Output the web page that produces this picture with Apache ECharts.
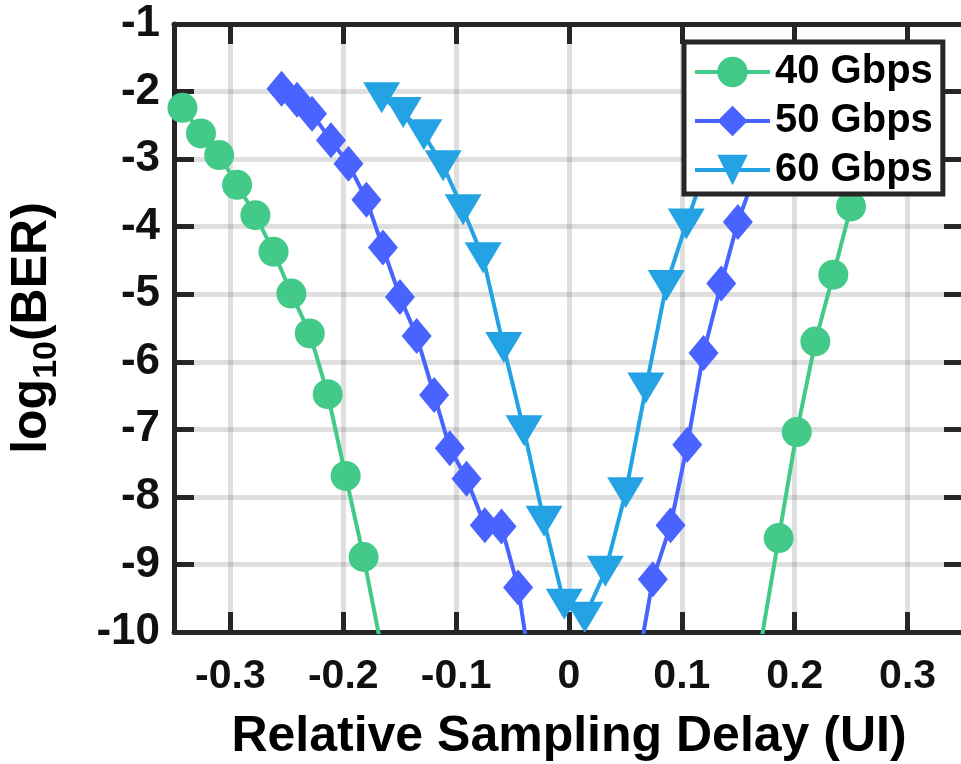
<!DOCTYPE html>
<html>
<head>
<meta charset="utf-8">
<script src="https://cdn.jsdelivr.net/npm/echarts@6/dist/echarts.min.js"></script>
<style>
html,body{margin:0;padding:0;background:#fff;}
#chart{width:961px;height:764px;}
</style>
</head>
<body>
<div id="chart"></div>
<script>
// ---- data ----
const seriesNames = ['40 Gbps', '50 Gbps', '60 Gbps'];

const x40 = [-0.3425, -0.3261, -0.3100, -0.2941, -0.2779, -0.2618, -0.2460, -0.2297, -0.2138, -0.1979, -0.1820, -0.1661,
             0.1698, 0.1858, 0.2018, 0.2183, 0.2342, 0.2499];
const y40 = [-2.24, -2.62, -2.94, -3.38, -3.83, -4.37, -4.99, -5.58, -6.48, -7.69, -8.89, -10.24,
             -10.18, -8.61, -7.04, -5.70, -4.71, -3.70];

const x50 = [-0.2547, -0.2410, -0.2277, -0.2109, -0.1954, -0.1795, -0.1649, -0.1498, -0.1350, -0.1195, -0.1056, -0.0908,
             -0.0746, -0.0598, -0.0451, -0.0304,
             0.0596, 0.0743, 0.0900, 0.1048, 0.1192, 0.1349, 0.1496, 0.1643];
const y50 = [-1.96, -2.12, -2.33, -2.72, -3.07, -3.60, -4.31, -5.04, -5.62, -6.49, -7.28, -7.73,
             -8.42, -8.44, -9.34, -10.97,
             -10.62, -9.22, -8.42, -7.23, -5.87, -4.84, -3.93, -3.25];

const x60 = [-0.1660, -0.1469, -0.1286, -0.1115, -0.0938, -0.0761, -0.0578, -0.0398, -0.0221, -0.0042,
             0.0139, 0.0322, 0.0502, 0.0681, 0.0862, 0.1039, 0.1219];
const y60 = [-2.09, -2.31, -2.64, -3.10, -3.75, -4.46, -5.79, -7.02, -8.36, -9.59,
             -9.78, -9.10, -7.94, -6.39, -4.87, -3.96, -3.09];

const xRange = [-0.35, 0.35];
const yRange = [-10, -1];
const xTitle = 'Relative Sampling Delay (UI)';

// ---- styling ----
const FONT = 'Liberation Sans';
const AX = '#262626';
const GRID = 'rgba(38,38,38,0.15)';
const colors = ['#43CA89', '#4863FF', '#23A3E3'];

function pairs(xs, ys) { return xs.map((x, i) => [x, ys[i]]); }
function tick() { return {show: true, inside: true, length: 20, lineStyle: {color: AX, width: 5}}; }
function aline() { return {show: true, onZero: false, lineStyle: {color: AX, width: 5}}; }

const chart = echarts.init(document.getElementById('chart'));

chart.setOption({
  animation: false,
  grid: {left: 174, top: 24, width: 790, height: 608, outerBoundsMode: 'none'},
  xAxis: [{
    type: 'value', min: xRange[0], max: xRange[1], splitNumber: 7,
    axisLine: aline(), axisTick: tick(),
    axisLabel: {showMinLabel: false, showMaxLabel: false, margin: 24,
      fontFamily: FONT, fontWeight: 'bold', fontSize: 41, color: '#111'},
    splitLine: {show: true, lineStyle: {color: GRID, width: 5}},
    name: xTitle, nameLocation: 'middle', nameGap: 80,
    nameTextStyle: {fontFamily: FONT, fontWeight: 'bold', fontSize: 50, color: '#000'}
  }, {
    type: 'value', position: 'top', min: xRange[0], max: xRange[1], splitNumber: 7,
    axisLine: aline(), axisTick: tick(), axisLabel: {show: false}, splitLine: {show: false}
  }],
  yAxis: [{
    type: 'value', min: yRange[0], max: yRange[1], interval: 1,
    axisLine: aline(), axisTick: tick(),
    axisLabel: {margin: 14, fontFamily: FONT, fontWeight: 'bold', fontSize: 44, color: '#111'},
    splitLine: {show: true, lineStyle: {color: GRID, width: 5}},
    name: '{a|log}{b|10}{a|(BER)}', nameLocation: 'middle', nameGap: 110, nameRotate: 90,
    nameTextStyle: {fontFamily: FONT, fontWeight: 'bold', fontSize: 50, color: '#000',
      rich: {
        a: {fontFamily: FONT, fontWeight: 'bold', fontSize: 50, color: '#000', lineHeight: 64, verticalAlign: 'middle'},
        b: {fontFamily: FONT, fontWeight: 'bold', fontSize: 34, color: '#000', lineHeight: 34, verticalAlign: 'bottom'}
      }}
  }, {
    type: 'value', position: 'right', min: yRange[0], max: yRange[1], interval: 1,
    axisLine: aline(), axisTick: tick(), axisLabel: {show: false}, splitLine: {show: false}
  }],
  legend: {
    orient: 'vertical', left: 684, top: 42,
    backgroundColor: '#fff', borderColor: AX, borderWidth: 5, borderRadius: 0,
    padding: [10, 10, 4, 9], itemGap: 9, itemWidth: 75, itemHeight: 38,
    lineStyle: {width: 4},
    textStyle: {fontFamily: FONT, fontWeight: 'bold', fontSize: 40, color: '#000'},
    data: seriesNames
  },
  series: [{
    name: seriesNames[0], type: 'line', data: pairs(x40, y40),
    symbol: 'circle', symbolSize: 30, showAllSymbol: true,
    lineStyle: {color: colors[0], width: 4}, itemStyle: {color: colors[0]}
  }, {
    name: seriesNames[1], type: 'line', data: pairs(x50, y50),
    symbol: 'diamond', symbolSize: [30, 36], showAllSymbol: true,
    lineStyle: {color: colors[1], width: 4}, itemStyle: {color: colors[1]}
  }, {
    name: seriesNames[2], type: 'line', data: pairs(x60, y60),
    symbol: 'triangle', symbolSize: [37, 31], symbolRotate: 180, showAllSymbol: true,
    lineStyle: {color: colors[2], width: 4}, itemStyle: {color: colors[2]}
  }]
});
</script>
</body>
</html>
